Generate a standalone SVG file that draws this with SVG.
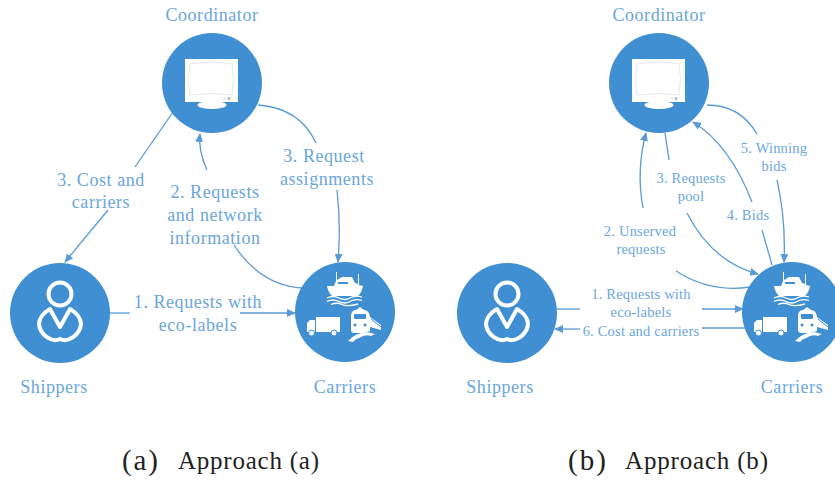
<svg xmlns="http://www.w3.org/2000/svg" width="835" height="480" viewBox="0 0 835 480">
<style>
text{font-family:"Liberation Serif","Times New Roman",serif;fill:#6aa6dc;text-anchor:middle}
.n,.l{font-size:18px;letter-spacing:.55px}
.s{font-size:14.5px;letter-spacing:.2px}
.c{fill:#222;font-size:25px;text-anchor:start}
.p{font-size:29px}
.e{fill:none;stroke:#5b9bd5;stroke-width:1.3}
.d{fill:#3f8fd2}
.w{fill:#fff}
.b{fill:#3f8fd2}
</style>
<defs>
<marker id="a" markerWidth="10" markerHeight="8" refX="8" refY="4" orient="auto" markerUnits="userSpaceOnUse"><path d="M0 0L9 4L0 8Z" fill="#5b9bd5"/></marker>
<g id="mon">
<circle class="d" r="50"/>
<rect class="w" x="-27" y="-24" width="53" height="43"/>
<path d="M-22-19Q-1-23 20-19Q23-3 20 12Q-1 9-22 12Q-25-3-22-19Z" fill="#fff" stroke="#e2e2e2" stroke-width="0.8"/>
<ellipse class="w" cy="22" rx="14.500" ry="4"/>
<circle cx="17" cy="15.500" r="1.600" fill="#bbb"/><circle cx="13" cy="15.500" r="0.800" fill="#ccc"/>
</g>
<g id="per">
<circle class="d" r="50"/>
<circle cy="-19" r="11.500" fill="none" stroke="#fff" stroke-width="4"/>
<path d="M-10-4L0 14L10-4C17 0 21 6 21 11C20 22 8 30 0 26C-8 30-20 22-21 11C-21 6-17 0-10-4Z" fill="none" stroke="#fff" stroke-width="4" stroke-linejoin="round"/>
</g>
<g id="car">
<circle class="d" r="50"/>
<path class="w" d="M-18-26H-11L-9-31V-40H-8V-32L-3-35H7L10-29L13-28V-38H14V-27L18-26Q17-20 13-16H-13Q-17-20-18-26Z"/>
<rect class="b" x="-7" y="-30" width="10" height="2"/>
<path d="M-18-14Q-12-17-6-14T5-14T17-15M-18-10.500Q-12-13.500-6-10.500T5-10.500T17-11.500M-14-7.500Q-8-10-3-7.500T13-8" fill="none" stroke="#fff" stroke-width="1.300"/>
<rect class="w" x="-29" y="5" width="24" height="15"/>
<path class="w" d="M-38 20V11L-35 8H-30V20Z"/>
<circle cx="-33.500" cy="21" r="3" fill="#fff" stroke="#3f8fd2"/><circle cx="-11" cy="21" r="3" fill="#fff" stroke="#3f8fd2"/>
<path class="w" d="M6 19V3Q7-2 11-2L15-5L19-2Q24-2 25 5L36 13V18L25 15V19L18 21H8Z"/>
<rect class="b" x="9" y="2" width="12" height="5" rx="1"/>
<circle class="b" cx="10" cy="13" r="1.500"/><circle class="b" cx="20" cy="13" r="1.500"/>
<path d="M26 7L36 15" stroke="#3f8fd2" stroke-width="1"/>
<path class="w" d="M3 29Q10 21 22 20L30 22L26 24Q20 22 14 26Q10 27 8 30Z"/>
</g>
</defs>
<g id="connectors">
<path class="e" d="M173 112L135 167"/>
<path class="e" marker-end="url(#a)" d="M108 210L65 262"/>
<path class="e" d="M302 288Q260 285 234 245"/>
<path class="e" marker-end="url(#a)" d="M207 170Q198 150 200 134"/>
<path class="e" d="M258 105Q300 108 316 143"/>
<path class="e" marker-end="url(#a)" d="M337 190Q341 225 338 262"/>
<path class="e" d="M110 313H130"/>
<path class="e" marker-end="url(#a)" d="M240 313H295"/>
<path class="e" marker-end="url(#a)" d="M643 208Q636 170 646 133"/>
<path class="e" d="M676 271Q710 293 750 287"/>
<path class="e" d="M665 133L669 160"/>
<path class="e" marker-end="url(#a)" d="M687 213Q712 262 758 274"/>
<path class="e" d="M772 265L762 230"/>
<path class="e" marker-end="url(#a)" d="M752 202Q730 145 693 122"/>
<path class="e" d="M707 105Q740 105 757 134"/>
<path class="e" marker-end="url(#a)" d="M777 180Q786 220 784 262"/>
<path class="e" d="M557 309H580"/>
<path class="e" marker-end="url(#a)" d="M702 309H743"/>
<path class="e" marker-end="url(#a)" d="M580 329H555"/>
<path class="e" d="M702 328H745"/>
</g>
<g id="coordinator-a"><use href="#mon" x="212" y="83"/><text class="n" x="212" y="20.500">Coordinator</text></g>
<g id="shippers-a"><use href="#per" x="60" y="313"/><text class="n" x="54" y="393">Shippers</text></g>
<g id="carriers-a"><use href="#car" x="345" y="312"/><text class="n" x="345" y="393">Carriers</text></g>
<g id="coordinator-b"><use href="#mon" x="659" y="83"/><text class="n" x="659" y="20.500">Coordinator</text></g>
<g id="shippers-b"><use href="#per" x="507" y="313"/><text class="n" x="500" y="393">Shippers</text></g>
<g id="carriers-b"><use href="#car" x="792" y="312"/><text class="n" x="792" y="393">Carriers</text></g>
<g id="labels">
<text class="l" x="101" y="186">3. Cost and</text><text class="l" x="101" y="208">carriers</text>
<text class="l" x="215" y="198">2. Requests</text><text class="l" x="215" y="221">and network</text><text class="l" x="215" y="244">information</text>
<text class="l" x="324" y="162">3. Request</text><text class="l" x="327" y="185">assignments</text>
<text class="l" x="198" y="308">1. Requests with</text><text class="l" x="198" y="331">eco-labels</text>
<text class="s" x="640" y="236">2. Unserved</text><text class="s" x="641" y="254">requests</text>
<text class="s" x="691" y="183">3. Requests</text><text class="s" x="691" y="201">pool</text>
<text class="s" x="748" y="220">4. Bids</text>
<text class="s" x="774" y="153">5. Winning</text><text class="s" x="774" y="171">bids</text>
<text class="s" x="641" y="299">1. Requests with</text><text class="s" x="641" y="317">eco-labels</text>
<text class="s" x="641" y="336">6. Cost and carriers</text>
<text class="c p" x="122" y="470" textLength="36">(a)</text>
<text class="c" x="178" y="469" textLength="141">Approach (a)</text>
<text class="c p" x="568" y="470" textLength="38">(b)</text>
<text class="c" x="625" y="469" textLength="143">Approach (b)</text>
</g>
</svg>
